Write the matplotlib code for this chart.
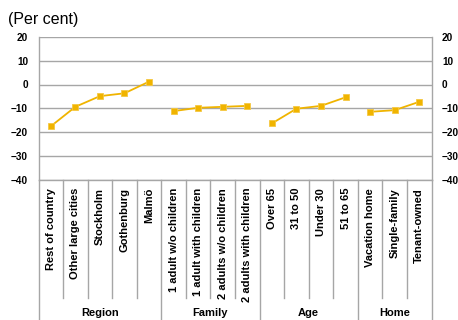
import matplotlib
matplotlib.use('Agg')
import matplotlib.pyplot as plt
import matplotlib.transforms as mtransforms
import numpy as np

# Data
groups = ["Region", "Family", "Age", "Home"]
categories = [
    ["Rest of country", "Other large cities", "Stockholm", "Gothenburg", "Malmö"],
    ["1 adult w/o children", "1 adult with children", "2 adults w/o children", "2 adults with children"],
    ["Over 65", "31 to 50", "Under 30", "51 to 65"],
    ["Vacation home", "Single-family", "Tenant-owned"],
]
values = [
    [-17.6, -9.4, -4.9, -3.7, 1.2],
    [-11.2, -9.8, -9.4, -9.0],
    [-16.4, -10.2, -9.0, -5.4],
    [-11.5, -10.8, -7.3],
]
yticks = [20, 10, 0, -10, -20, -30, -40]

gold = '#F0B400'
grey = '#A6A6A6'
plt.rcParams['font.family'] = ['Liberation Sans', 'DejaVu Sans']

fig = plt.figure(figsize=(4.58, 3.2), dpi=100)
ax = fig.add_axes([38.5 / 458, 1 - 179.5 / 320, 393 / 458, 142.5 / 320])

labels = []
start = 0
bounds = [-0.5]
for cats, vals in zip(categories, values):
    x = np.arange(start, start + len(cats))
    ax.plot(x, vals, color=gold, lw=1.3, marker='s', ms=4.8,
            markeredgecolor='#F5C842', markeredgewidth=0.6, zorder=3)
    labels += cats
    start += len(cats)
    bounds.append(start - 0.5)

ax.set_xlim(-0.5, start - 0.5)
ax.set_ylim(-40, 20)
ax.set_yticks(yticks)
ax.yaxis.grid(True, color=grey, lw=1)
ax.set_axisbelow(True)
ax.tick_params(axis='y', length=0, labelsize=7.2, labelright=True, pad=7.5)
for lbl in ax.get_yticklabels():
    lbl.set_fontweight('bold')
for side in ['left', 'right', 'bottom']:
    ax.spines[side].set_color(grey)
    ax.spines[side].set_linewidth(1)
ax.spines['top'].set_visible(False)

ax.set_xticks(np.arange(start))
ax.set_xticklabels(labels, rotation=90, fontsize=8, fontweight='bold', va='top')
ax.tick_params(axis='x', length=0, pad=6)

# separators below the axis
trans = mtransforms.blended_transform_factory(ax.transData, fig.transFigure)
y_axis_bottom = 1 - 179.5 / 320
y_inner = 1 - 298 / 320
for i in range(start + 1):
    xb = i - 0.5
    ybot = 0 if xb in bounds else y_inner
    ax.plot([xb, xb], [y_axis_bottom, ybot], color=grey, lw=1,
            transform=trans, clip_on=False)

# group labels
for g, lo, hi in zip(groups, bounds[:-1], bounds[1:]):
    ax.text((lo + hi) / 2, 1 - 313 / 320, g, transform=trans, ha='center',
            va='center', fontsize=8, fontweight='bold')

fig.text(8 / 458, 1 - 19.5 / 320, '(Per cent)', fontsize=11.5, va='center', ha='left')

fig.savefig('out.png', dpi=100)
